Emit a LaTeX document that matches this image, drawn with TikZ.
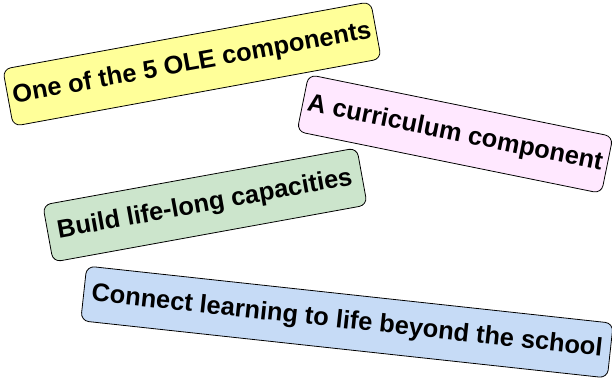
\documentclass[tikz,border=0pt]{standalone}
\usepackage{fontspec}
\setmainfont{Liberation Sans}
\definecolor{oleyellow}{HTML}{FFFF99}
\definecolor{olepink}{HTML}{FFE8FF}
\definecolor{olegreen}{HTML}{CCE5CC}
\definecolor{oleblue}{HTML}{C6DBF6}
\begin{document}
\begin{tikzpicture}[x=1pt,y=1pt,
		tag/.style={draw,rounded corners=8pt,line width=0.8pt,minimum height=58pt,inner xsep=5pt,
			font=\fontsize{25.4}{30}\selectfont\bfseries}]
		\useasboundingbox (0,0) rectangle (612,379);
		\node[tag,fill=oleyellow,rotate=10.4] (one) at (192,315) {One of the 5 OLE components};
		\node[tag,fill=olepink,rotate=-11.5] (curr) at (455,245) {A curriculum component};
		\node[tag,fill=olegreen,rotate=10.3,inner xsep=10pt] (build) at (205,174) {Build life-long capacities};
		\node[tag,fill=oleblue,rotate=-6.2,inner xsep=8pt,minimum height=55pt] (conn) at (347,57) {Connect learning to life beyond the school};
	\end{tikzpicture}
\end{document}
